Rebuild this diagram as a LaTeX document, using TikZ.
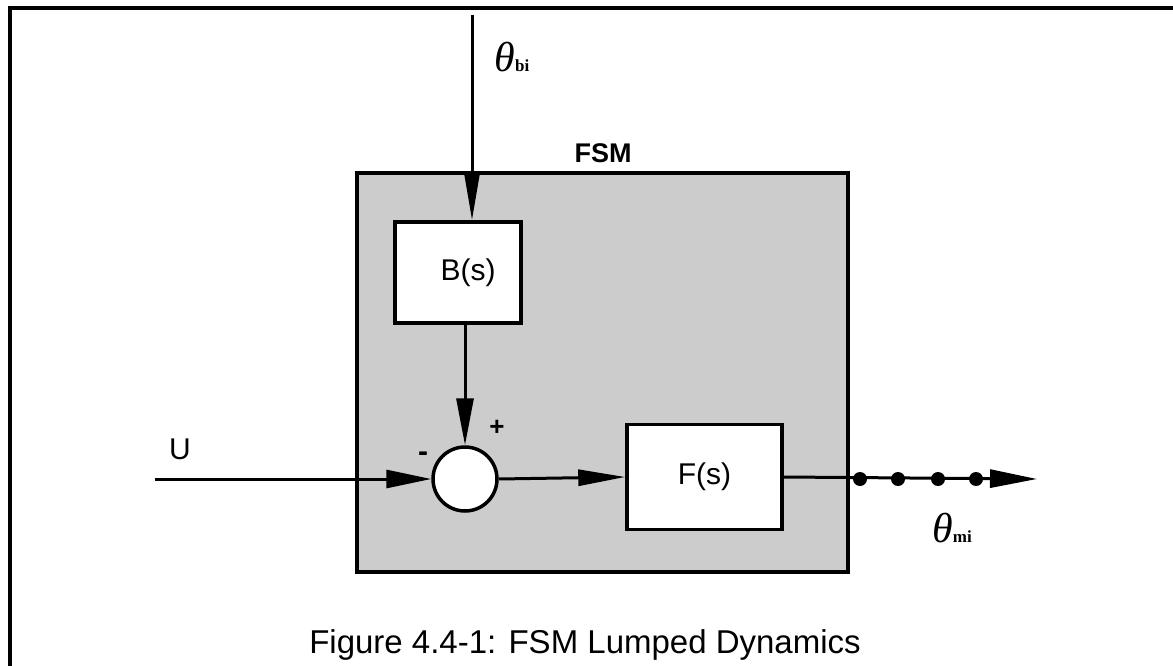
\documentclass[tikz,border=0pt]{standalone}
\usepackage{fontspec}
\setmainfont{Liberation Sans}
\newfontfamily\labserif{Liberation Serif}
\usetikzlibrary{arrows.meta}
\tikzset{
  blk/.style={draw=black, line width=3.5pt, fill=white, inner sep=0pt},
  conn/.style={line width=3pt, -{Triangle[length=47pt,width=17pt]}},
  lab/.style={font=\fontsize{30}{30}\selectfont, inner sep=0pt},
  dotn/.style={circle, fill=black, minimum size=14pt, inner sep=0pt},
}
\newcommand{\thlab}[1]{{\labserif\itshape\fontsize{42}{42}\selectfont θ}{\labserif\bfseries\fontsize{17}{17}\selectfont #1}}
\begin{document}
\begin{tikzpicture}[x=1pt,y=-1pt]
\useasboundingbox (0,0) rectangle (1173,666);
% outer frame
\coordinate (fl) at (10,666);
\coordinate (fc) at (10,8);
\coordinate (fr) at (1173,8);
\draw[line width=4pt, line join=miter] (fl) -- (fc) -- (fr);
% FSM box
\node[draw=black, line width=3.5pt, fill=black!20, minimum width=491pt, minimum height=399pt, inner sep=0pt] (fsm) at (602.5,372.5) {};
\node[font=\fontsize{27}{27}\selectfont\bfseries, inner sep=0pt] (fsmlab) at (603,153) {FSM};
% blocks
\node[blk, minimum width=126pt, minimum height=101pt] (B) at (458,272.5) {};
\node[lab] (Blab) at (468,273) {B(s)};
\node[blk, lab, minimum width=155pt, minimum height=105pt] (F) at (704.5,477) {F(s)};
\node[circle, draw=black, line width=3.5pt, fill=white, minimum size=64pt, inner sep=0pt] (sum) at (465,479) {};
% signs
\node[font=\fontsize{30}{30}\selectfont\bfseries, inner sep=0pt] (minus) at (423,457) {-};
\node[font=\fontsize{26}{26}\selectfont\bfseries, inner sep=0pt] (plus) at (497,428) {+};
% input theta_bi
\coordinate (tin) at (472,15);
\draw[conn,-{Triangle[length=47pt,width=15pt]}] (tin) -- (tin |- B.north);
\node[inner sep=0pt] (thbi) at (512,57) {\thlab{bi}};
% B to sum
\draw[conn] (B.south -| sum.north) -- (sum.north);
% U input
\coordinate (uin) at (155,479);
\draw[conn,-{Triangle[length=45pt,width=18pt]}] (uin) -- (sum.west);
\node[lab] (U) at (180,449) {U};
% sum to F
\draw[conn,-{Triangle[length=47pt,width=16pt]}] (sum.east) -- (F.west);
% output
\coordinate (out) at (1037,479);
\draw[conn,-{Triangle[length=47pt,width=18pt]}] (F.east) -- (out);
\node[dotn] (d1) at (860,479) {};
\node[dotn] (d2) at (898,479) {};
\node[dotn] (d3) at (938,479) {};
\node[dotn] (d4) at (976,479) {};
\node[inner sep=0pt] (thmi) at (952,528) {\thlab{mi}};
% caption
\node[font=\fontsize{33}{33}\selectfont, inner sep=0pt] (cap) at (585,645) {Figure 4.4-1: FSM Lumped Dynamics};
\end{tikzpicture}
\end{document}
